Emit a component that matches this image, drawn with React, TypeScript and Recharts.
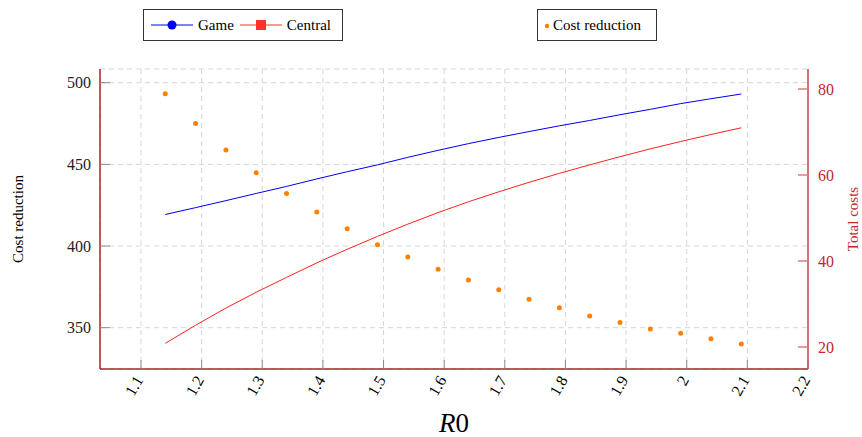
import React from "react";
import { ComposedChart, Line, XAxis, YAxis, CartesianGrid, Legend, Label } from "recharts";

// R0 values where the model was evaluated
const r0 = [
  1.14, 1.19, 1.24, 1.29, 1.34, 1.39, 1.44, 1.49, 1.54, 1.59,
  1.64, 1.69, 1.74, 1.79, 1.84, 1.89, 1.94, 1.99, 2.04, 2.09,
];

const game = [
  419.3, 423.5, 427.8, 432.2, 436.5, 441.1, 445.5, 449.7, 454.3, 458.6,
  462.7, 466.5, 470.1, 473.6, 476.9, 480.4, 483.7, 487.2, 490.2, 493.1,
];

const central = [
  340.4, 351.5, 362.0, 371.7, 380.8, 389.7, 398.0, 405.9, 413.4, 420.5,
  427.1, 433.2, 439.0, 444.5, 449.7, 454.7, 459.5, 464.0, 468.3, 472.4,
];

const costReduction = [
  78.9, 72.0, 65.8, 60.5, 55.7, 51.4, 47.5, 43.8, 40.9, 38.1,
  35.6, 33.3, 31.1, 29.1, 27.2, 25.7, 24.2, 23.2, 21.9, 20.7,
];

const xTicks = [1.1, 1.2, 1.3, 1.4, 1.5, 1.6, 1.7, 1.8, 1.9, 2.0, 2.1, 2.2];
const leftTicks = [350, 400, 450, 500];
const rightTicks = [20, 40, 60, 80];

const data = r0.map((x, i) => ({
  x,
  game: game[i],
  central: central[i],
  reduction: costReduction[i],
}));

const FONT = "'Liberation Serif', 'Times New Roman', serif";
const FRAME = "#a8262b";
const RED = "#c4262b";
const PINK = "#e07a7a";
const TICK = "#8a8a8a";

const fmt = (v: number) => String(+Number(v).toFixed(1));

const XTick = (props: any) => {
  const { x, y, payload } = props;
  const tx = x - 2;
  return (
    <text
      x={tx}
      y={y}
      transform={`rotate(-60 ${tx} ${y})`}
      textAnchor="end"
      dominantBaseline="central"
      fontSize={16}
      fontFamily={FONT}
      fill="#000"
    >
      {fmt(payload.value)}
    </text>
  );
};

const legendBox: React.CSSProperties = {
  position: "absolute",
  top: 9,
  height: 32,
  border: "1px solid #333",
  background: "#fff",
  display: "flex",
  alignItems: "center",
  fontFamily: FONT,
  fontSize: 15,
  boxSizing: "border-box",
};

const LineSwatch = ({ color, marker }: { color: string; marker: "circle" | "square" }) => (
  <svg width={42} height={14} style={{ marginRight: 5 }}>
    <line x1={0} y1={7} x2={42} y2={7} stroke={color} strokeWidth={1} />
    {marker === "circle" ? (
      <circle cx={21} cy={7} r={4.5} fill={color} />
    ) : (
      <rect x={16} y={2} width={10} height={10} fill={color} />
    )}
  </svg>
);

const LegendContent = () => (
  <div style={{ position: "relative", width: 862, height: 50 }}>
    <div style={{ ...legendBox, left: 143, width: 200, paddingLeft: 7 }}>
      <LineSwatch color="#0000ee" marker="circle" />
      <span style={{ marginRight: 6 }}>Game</span>
      <LineSwatch color="#ff3030" marker="square" />
      <span>Central</span>
    </div>
    <div style={{ ...legendBox, left: 537, width: 120, paddingLeft: 6 }}>
      <svg width={6} height={14} style={{ marginRight: 3 }}>
        <circle cx={3} cy={8} r={2.2} fill="#ff8000" />
      </svg>
      <span>Cost reduction</span>
    </div>
  </div>
);

export default function App() {
  return (
    <div style={{ position: "absolute", left: 0, top: 0, width: 862, height: 437, background: "#fff" }}>
      <ComposedChart
        width={862}
        height={437}
        data={data}
        margin={{ top: 19, right: 0, left: 0, bottom: 0 }}
      >
        <Legend
          verticalAlign="top"
          align="left"
          content={<LegendContent />}
          wrapperStyle={{ top: 0, left: 0, width: 862, height: 50 }}
        />
        <CartesianGrid
          xAxisId="bottom"
          yAxisId="left"
          stroke="#d6d6d6"
          strokeDasharray="5 4"
          vertical
          horizontal
        />
        <XAxis
          xAxisId="bottom"
          dataKey="x"
          type="number"
          domain={[1.0324, 2.2]}
          ticks={xTicks}
          allowDataOverflow
          height={68}
          tickSize={-9}
          tickMargin={17}
          tickLine={{ stroke: TICK }}
          axisLine={{ stroke: FRAME, strokeWidth: 1.5 }}
          tick={<XTick />}
        >
          <Label
            content={(p: any) => {
              const vb = p.viewBox;
              return (
                <text
                  x={vb.x + vb.width / 2}
                  y={vb.y + 63}
                  textAnchor="middle"
                  fontFamily={FONT}
                  fontSize={27}
                  fill="#000"
                >
                  <tspan fontStyle="italic">R</tspan>
                  <tspan>0</tspan>
                </text>
              );
            }}
          />
        </XAxis>
        <XAxis
          xAxisId="top"
          dataKey="x"
          type="number"
          orientation="top"
          domain={[1.0324, 2.2]}
          ticks={xTicks}
          allowDataOverflow
          height={0}
          mirror
          tick={false}
          tickSize={9}
          tickLine={{ stroke: TICK }}
          axisLine={{ stroke: FRAME, strokeWidth: 1.5 }}
        />
        <YAxis
          yAxisId="left"
          orientation="left"
          domain={[324.7, 508.4]}
          ticks={leftTicks}
          allowDataOverflow
          width={100}
          tickSize={-10}
          tickMargin={19}
          tickLine={{ stroke: TICK }}
          axisLine={{ stroke: FRAME, strokeWidth: 1.5 }}
          tick={{ fontFamily: FONT, fontSize: 16, fill: "#222" }}
        >
          <Label
            content={(p: any) => {
              const vb = p.viewBox;
              const cx = vb.x + 18;
              const cy = vb.y + vb.height / 2;
              return (
                <text
                  x={cx}
                  y={cy}
                  transform={`rotate(-90 ${cx} ${cy})`}
                  textAnchor="middle"
                  dominantBaseline="central"
                  fontFamily={FONT}
                  fontSize={15}
                  fill="#000"
                >
                  Cost reduction
                </text>
              );
            }}
          />
        </YAxis>
        <YAxis
          yAxisId="rightMirror"
          orientation="left"
          domain={[14.88, 84.65]}
          ticks={rightTicks}
          allowDataOverflow
          width={0}
          mirror
          tick={false}
          tickSize={10}
          tickLine={{ stroke: PINK, strokeWidth: 1.5 }}
          axisLine={false}
        />
        <YAxis
          yAxisId="right"
          orientation="right"
          domain={[14.88, 84.65]}
          ticks={rightTicks}
          allowDataOverflow
          width={54}
          tickSize={-10}
          tickMargin={20}
          tickLine={{ stroke: PINK, strokeWidth: 1.5 }}
          axisLine={{ stroke: "#c84a4a", strokeWidth: 1.5 }}
          tick={{ fontFamily: FONT, fontSize: 16, fill: RED }}
        >
          <Label
            content={(p: any) => {
              const vb = p.viewBox;
              const cx = vb.x + 45;
              const cy = vb.y + vb.height / 2;
              return (
                <text
                  x={cx}
                  y={cy}
                  transform={`rotate(-90 ${cx} ${cy})`}
                  textAnchor="middle"
                  dominantBaseline="central"
                  fontFamily={FONT}
                  fontSize={15}
                  fill={RED}
                >
                  Total costs
                </text>
              );
            }}
          />
        </YAxis>
        <Line
          xAxisId="bottom"
          yAxisId="left"
          type="linear"
          dataKey="game"
          name="Game"
          stroke="#0000ee"
          strokeWidth={1}
          dot={false}
          isAnimationActive={false}
        />
        <Line
          xAxisId="bottom"
          yAxisId="left"
          type="linear"
          dataKey="central"
          name="Central"
          stroke="#ff2020"
          strokeWidth={1}
          dot={false}
          isAnimationActive={false}
        />
        <Line
          xAxisId="bottom"
          yAxisId="right"
          type="linear"
          dataKey="reduction"
          name="Cost reduction"
          stroke="none"
          strokeWidth={0}
          dot={{ r: 2.5, fill: "#ff8000", stroke: "none" }}
          activeDot={false}
          isAnimationActive={false}
        />
      </ComposedChart>
    </div>
  );
}
